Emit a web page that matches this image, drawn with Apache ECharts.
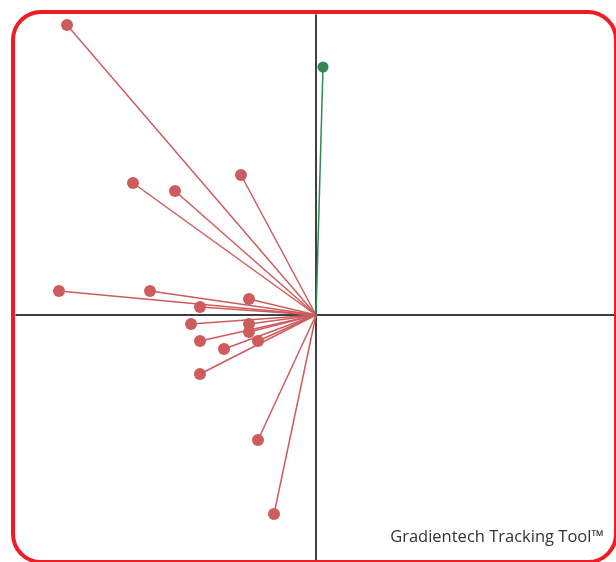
<!DOCTYPE html>
<html>
<head>
<meta charset="utf-8">
<script src="https://cdn.jsdelivr.net/npm/echarts@6/dist/echarts.min.js"></script>
<style>
  html,body{margin:0;padding:0;background:#fff;}
  #chart{width:616px;height:562px;}
</style>
</head>
<body>
<div id="chart"></div>
<script>
// end points of the vectors (origin is 0,0)
var redX = [-249, -183, -141, -75, -257, -166, -67, -116, -125, -67, -67, -116, -92, -58, -116, -58, -42];
var redY = [290, 132, 124, 140, 24, 24, 16, 8, -9, -9, -17, -26, -34, -26, -59, -125, -199];
var greenX = [7];
var greenY = [248];

function toLines(xs, ys){
  var out = [];
  xs.forEach(function(x, i){
    out.push({coords: [[0, 0], [x, ys[i]]]});
  });
  return out;
}
function toPoints(xs, ys){
  return xs.map(function(x, i){ return [x, ys[i]]; });
}

var myChart = echarts.init(document.getElementById('chart'));
myChart.setOption({
  animation: false,
  grid: {left: 16, right: 0, top: 15, bottom: 0},
  xAxis: {
    type: 'value', min: -300, max: 300,
    axisLine: {onZero: true, lineStyle: {color: '#000', width: 1.5}},
    axisTick: {show: false}, axisLabel: {show: false}, splitLine: {show: false}
  },
  yAxis: {
    type: 'value', min: -247, max: 300,
    axisLine: {show: true, onZero: true, lineStyle: {color: '#000', width: 1.5}},
    axisTick: {show: false}, axisLabel: {show: false}, splitLine: {show: false}
  },
  graphic: [
    {
      type: 'rect', z: 100,
      shape: {x: 13, y: 12, width: 603, height: 550, r: 28},
      style: {fill: 'none', stroke: '#ee1c24', lineWidth: 4}
    },
    {
      type: 'text', right: 12, top: 529,
      style: {text: 'Gradientech Tracking Tool™', fill: '#333', font: '16.5px "Open Sans", sans-serif'}
    }
  ],
  series: [
    {
      type: 'lines', coordinateSystem: 'cartesian2d',
      data: toLines(redX, redY),
      lineStyle: {color: '#cd5c5c', width: 1.5, opacity: 1}
    },
    {
      type: 'lines', coordinateSystem: 'cartesian2d',
      data: toLines(greenX, greenY),
      lineStyle: {color: '#2e8b57', width: 1.5, opacity: 1}
    },
    {
      type: 'scatter', data: toPoints(redX, redY),
      symbolSize: 12, itemStyle: {color: '#cd5c5c', opacity: 1}
    },
    {
      type: 'scatter', data: toPoints(greenX, greenY),
      symbolSize: 11, itemStyle: {color: '#2e8b57', opacity: 1}
    }
  ]
});
</script>
</body>
</html>
